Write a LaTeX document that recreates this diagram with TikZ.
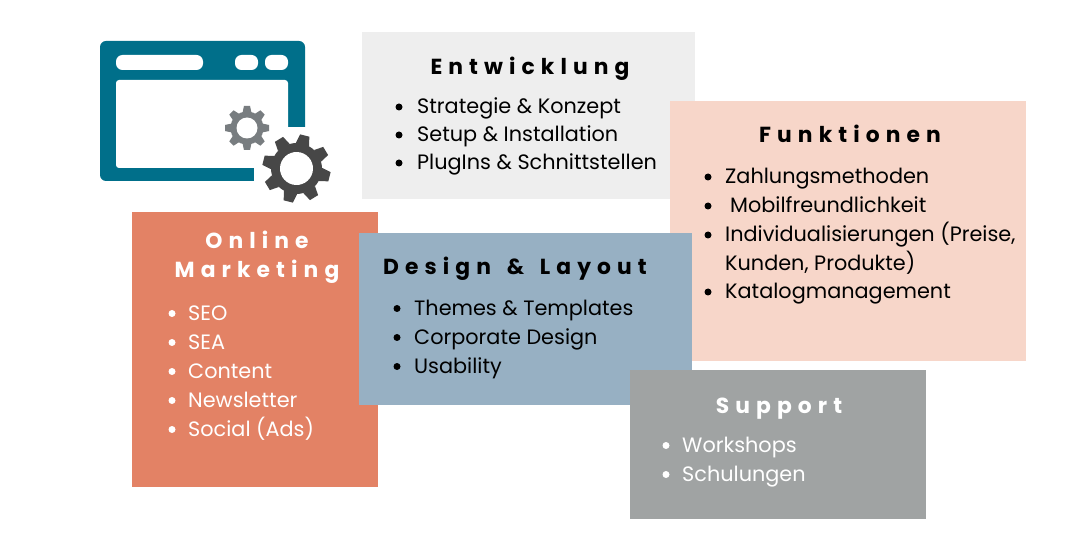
\documentclass[tikz,border=0pt]{standalone}
\usepackage{fontspec}
\setmainfont{Poppins}
\newfontfamily\headfont[LetterSpace=28]{Poppins}
\definecolor{entgray}{HTML}{EEEEEE}
\definecolor{funpeach}{HTML}{F7D6C9}
\definecolor{onlorange}{HTML}{E38265}
\definecolor{desblue}{HTML}{97B0C3}
\definecolor{supgray}{HTML}{A0A3A3}
\definecolor{winteal}{HTML}{006F8A}
\definecolor{gearlight}{HTML}{787D80}
\definecolor{geardark}{HTML}{474747}
\tikzset{
  x=1pt,y=-1pt,
  panel/.style={fill=#1,draw=none},
  head/.style={font=\headfont\bfseries\fontsize{21.8}{26}\selectfont,anchor=base,inner sep=0pt},
  entry/.style={font=\fontsize{20.8}{26}\selectfont,anchor=base west,inner sep=0pt},
}
% centre x, centre y, outer, root, hole, turn, colour
\newcommand{\gearwheel}[7]{
  \begin{scope}[shift={(#1,#2)},rotate=#6]
    \fill[#7] (0,0) circle (#4);
    \foreach \a in {0,45,...,315}
      \fill[#7,rotate=\a] (#4-1,-#3*0.2) -- (#3,-#3*0.14) -- (#3,#3*0.14) -- (#4-1,#3*0.2) -- cycle;
    \fill[white] (0,0) circle (#5);
  \end{scope}
}

\begin{document}
\begin{tikzpicture}
\useasboundingbox (0,0) rectangle (1080,540);

% window icon
\fill[winteal,rounded corners=6] (100,41) rectangle (305,181);
\fill[white,rounded corners=3] (116,80) rectangle (288,168);
\fill[white,rounded corners=6.5] (116,55) rectangle (203,70);
\fill[white,rounded corners=6.5] (235,55) rectangle (258,70);
\fill[white,rounded corners=6.5] (265,55) rectangle (288,70);
\fill[white] (254,127) rectangle (306,182);
\gearwheel{247}{128}{22}{16.5}{10.5}{0}{gearlight}
\gearwheel{296.5}{168.5}{34}{25.5}{16.5}{-14}{geardark}

% panels
\fill[panel=entgray] (362,32) rectangle (695,199);
\fill[panel=funpeach] (670,101) rectangle (1026,361);
\fill[panel=onlorange] (132,212) rectangle (378,486.5);
\fill[panel=desblue] (359,233) rectangle (692,405);
\fill[panel=supgray] (630,370) rectangle (926,519);

% Entwicklung
\node[head] (enthead) at (530,75) {Entwicklung};
\foreach \y/\t in {114/Strategie \& Konzept,142/Setup \& Installation,170/PlugIns \& Schnittstellen}{
  \fill (399,\y-7) circle (3.5);
  \node[entry] (ent\y) at (417,\y) {\t};
}

% Funktionen
\node[head] (funhead) at (850,143) {Funktionen};
\foreach \y/\t in {184/Zahlungsmethoden,242/{Individualisierungen (Preise,},299/Katalogmanagement}{
  \fill (708,\y-7) circle (3.5);
  \node[entry] (fun\y) at (725,\y) {\t};
}
\fill (708,206) circle (3.5);
\node[entry] (fun213) at (730,213) {Mobilfreundlichkeit};
\node[entry] (fun271) at (725,271) {Kunden, Produkte)};

% Online Marketing
\node[head,text=white] (onlhead1) at (257,249) {Online};
\node[head,text=white] (onlhead2) at (257,278) {Marketing};
\foreach \y/\t in {320.5/SEO,349.5/SEA,378.5/Content,407.5/Newsletter,436.5/Social (Ads)}{
  \fill[white] (172,\y-7) circle (3.5);
  \node[entry,text=white] (onl\y) at (188,\y) {\t};
}

% Design & Layout
\node[head] (deshead) at (515,275) {Design\hspace{5pt} \&\hspace{5pt} Layout};
\foreach \y/\t in {315.5/Themes \& Templates,344.5/Corporate Design,373.5/Usability}{
  \fill (397,\y-7) circle (3.5);
  \node[entry] (des\y) at (414,\y) {\t};
}

% Support
\node[head,text=white] (suphead) at (779,413.5) {Support};
\foreach \y/\t in {452.5/Workshops,481.5/Schulungen}{
  \fill[white] (666,\y-7) circle (3.5);
  \node[entry,text=white] (sup\y) at (682,\y) {\t};
}

\end{tikzpicture}
\end{document}
